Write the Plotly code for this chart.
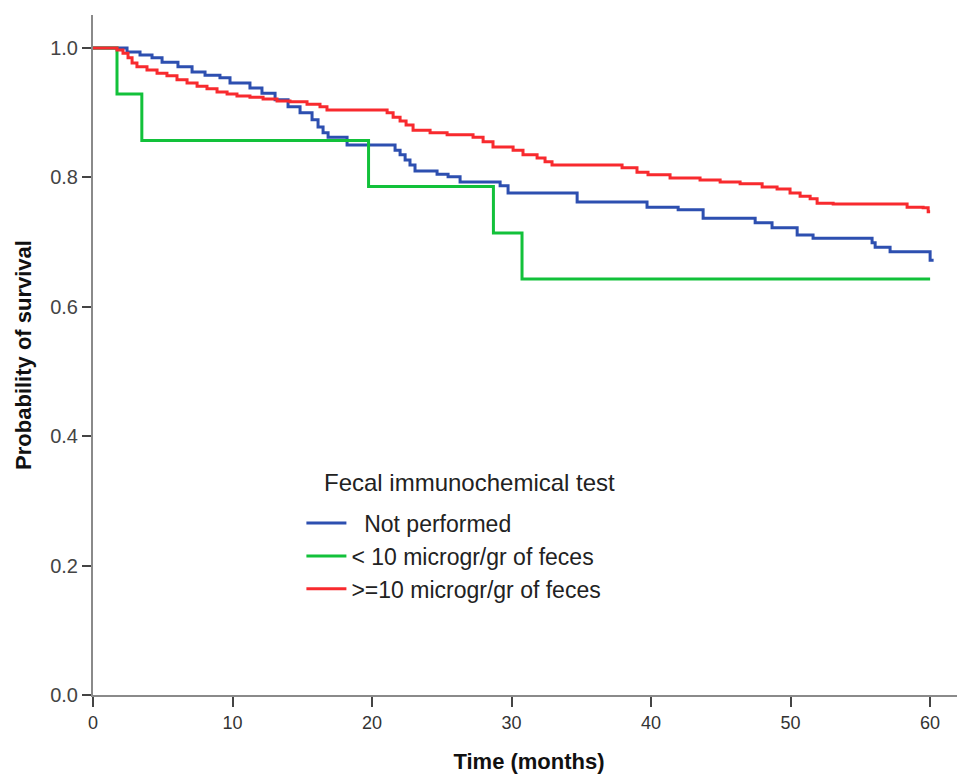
import plotly.graph_objects as go

# Not performed
blue_t = [0, 2.44, 3.37, 4.23, 4.95, 6.09, 7.10, 8.03, 9.10, 9.82, 11.25, 12.11, 13.05, 13.98, 14.84,
          15.70, 16.13, 16.49, 16.85, 18.21, 21.65, 22.01, 22.37, 22.72, 23.08, 24.66, 25.45, 26.31,
          29.18, 29.75, 34.70, 39.71, 41.94, 43.73, 47.46, 48.67, 50.47, 51.61, 55.84, 56.06, 57.13,
          60.0, 60.25]
blue_s = [1.0, 0.994, 0.989, 0.985, 0.978, 0.971, 0.963, 0.958, 0.954, 0.946, 0.938, 0.930, 0.920,
          0.909, 0.900, 0.889, 0.878, 0.869, 0.862, 0.850, 0.842, 0.835, 0.827, 0.819, 0.810, 0.805,
          0.801, 0.793, 0.787, 0.776, 0.762, 0.754, 0.750, 0.737, 0.730, 0.722, 0.711, 0.706, 0.699,
          0.692, 0.685, 0.672, 0.672]

# < 10 microgr/gr of feces
green_t = [0, 1.72, 3.5, 19.75, 28.7, 30.75, 60.0]
green_s = [1.0, 0.929, 0.857, 0.786, 0.714, 0.643, 0.643]

# >= 10 microgr/gr of feces
red_t = [0, 1.72, 2.15, 2.51, 2.80, 3.15, 3.87, 4.59, 5.30, 6.02, 6.74, 7.46, 8.17, 8.89, 9.61,
         10.32, 11.25, 12.19, 13.19, 14.12, 15.34, 16.27, 16.77, 21.08, 21.51, 22.01, 22.44, 22.94,
         24.16, 25.38, 27.24, 27.96, 28.67, 30.11, 30.82, 31.83, 32.40, 32.90, 37.92, 38.99, 39.78,
         41.36, 43.51, 44.95, 46.38, 47.96, 49.03, 49.96, 50.68, 51.40, 51.90, 53.05, 58.35, 59.50,
         59.86, 60.0]
red_s = [1.0, 0.997, 0.992, 0.985, 0.977, 0.971, 0.966, 0.961, 0.957, 0.951, 0.946, 0.941, 0.937,
         0.932, 0.929, 0.926, 0.924, 0.921, 0.918, 0.917, 0.913, 0.909, 0.904, 0.900, 0.893, 0.887,
         0.881, 0.873, 0.869, 0.866, 0.862, 0.855, 0.847, 0.842, 0.835, 0.830, 0.824, 0.819, 0.815,
         0.808, 0.804, 0.799, 0.796, 0.793, 0.790, 0.785, 0.782, 0.776, 0.771, 0.767, 0.760, 0.759,
         0.754, 0.753, 0.747, 0.747]

x_ticks = [0, 10, 20, 30, 40, 50, 60]
y_ticks = [0.0, 0.2, 0.4, 0.6, 0.8, 1.0]

legend_title = "Fecal immunochemical test"
series = [
    ("  Not performed", blue_t, blue_s, "#2d4fb0"),
    ("< 10 microgr/gr of feces", green_t, green_s, "#12c13a"),
    (">=10 microgr/gr of feces", red_t, red_s, "#f82a2e"),
]

fig = go.Figure()
for name, t, s, c in series:
    fig.add_trace(go.Scatter(x=t, y=s, mode="lines", name=name,
                             line=dict(color=c, width=3, shape="hv")))

font_narrow = "Liberation Sans Narrow, Arial Narrow, Liberation Sans, Arial, sans-serif"
fig.update_layout(
    width=965, height=774,
    margin=dict(l=85, r=8, t=7, b=87),
    paper_bgcolor="white", plot_bgcolor="white",
    font=dict(family="Liberation Sans, Arial, sans-serif", color="#333333"),
    xaxis=dict(range=[0, 62.5], tickvals=x_ticks, ticktext=[str(v) for v in x_ticks],
               automargin=False,
               showgrid=False, zeroline=False, showline=True, linecolor="#8a8a8a", linewidth=2,
               ticks="outside", ticklen=10, tickwidth=2, tickcolor="#444",
               tickfont=dict(size=18, family=font_narrow, color="#333"),
               title=dict(text="<b>Time (months)</b>", standoff=22,
                          font=dict(size=22, family=font_narrow, color="#111"))),
    yaxis=dict(range=[0, 1.051], tickvals=y_ticks, ticktext=[f"{v:.1f}" for v in y_ticks],
               automargin=False,
               showgrid=False, zeroline=False, showline=True, linecolor="#8a8a8a", linewidth=2,
               ticks="outside", ticklen=9, tickwidth=2, tickcolor="#444",
               tickfont=dict(size=20, family="Liberation Sans, Arial, sans-serif", color="#444"),
               title=dict(text="<b>Probability of survival</b>", standoff=12,
                          font=dict(size=22, family=font_narrow, color="#111"))),
    legend=dict(x=0.239, y=0.2845, xanchor="left", yanchor="top",
                bgcolor="rgba(0,0,0,0)",
                font=dict(size=23, color="#222"), itemwidth=40, tracegroupgap=0),
    showlegend=True,
    annotations=[dict(text=legend_title, xref="paper", yref="paper", x=0.2626, y=0.312,
                      xanchor="left", yanchor="middle", showarrow=False,
                      font=dict(size=24, color="#222"))],
)

fig.write_html("out.html")
